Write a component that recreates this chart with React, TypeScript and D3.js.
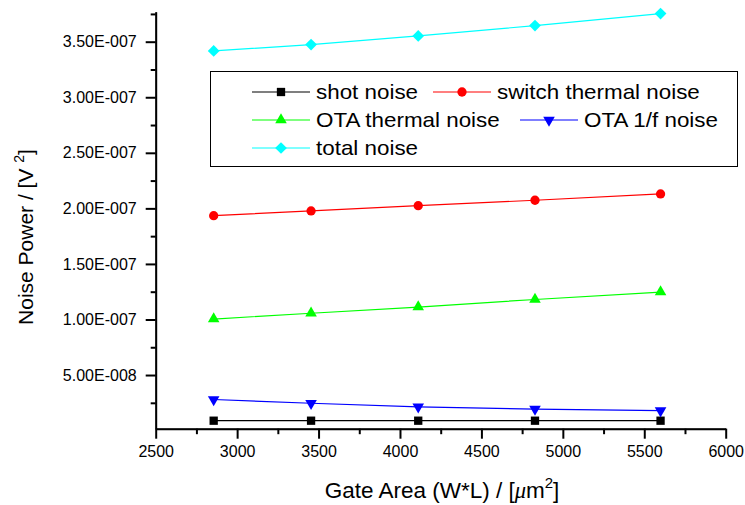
import React, { useEffect, useRef } from "react";
import * as d3 from "d3";

// values
const gateArea = [2856, 3454, 4112, 4829, 5600];
const shotNoise = [8.9e-9, 8.9e-9, 8.9e-9, 8.9e-9, 8.9e-9];
const switchThermalNoise = [1.934e-7, 1.977e-7, 2.024e-7, 2.073e-7, 2.13e-7];
const otaThermalNoise = [1.004e-7, 1.056e-7, 1.112e-7, 1.18e-7, 1.247e-7];
const otaFlickerNoise = [2.8e-8, 2.46e-8, 2.14e-8, 1.93e-8, 1.79e-8];
const totalNoise = [3.417e-7, 3.474e-7, 3.552e-7, 3.645e-7, 3.753e-7];

const seriesNames = [
  "shot noise",
  "switch thermal noise",
  "OTA thermal noise",
  "OTA 1/f noise",
  "total noise",
];
const seriesColors = ["#000000", "#ff0000", "#00ff00", "#0000ff", "#00ffff"];
const seriesValues = [
  shotNoise,
  switchThermalNoise,
  otaThermalNoise,
  otaFlickerNoise,
  totalNoise,
];

const xMajorTicks = [2500, 3000, 3500, 4000, 4500, 5000, 5500, 6000];
const yMajorTicks = [5e-8, 1e-7, 1.5e-7, 2e-7, 2.5e-7, 3e-7, 3.5e-7];

const width = 745;
const height = 505;
const font = "Liberation Sans, Arial, sans-serif";

// Origin-style "3.50E-007"
const sciFormat = (v: number) => {
  const exp = Math.floor(Math.log10(v) + 1e-9);
  const mant = v / Math.pow(10, exp);
  const sign = exp < 0 ? "-" : "+";
  return `${mant.toFixed(2)}E${sign}${String(Math.abs(exp)).padStart(3, "0")}`;
};

const symbolFor = (i: number) => {
  if (i === 0) return { type: d3.symbolSquare, size: 69, rotate: 0 };
  if (i === 1) return { type: d3.symbolCircle, size: 68, rotate: 0 };
  if (i === 2) return { type: d3.symbolTriangle, size: 58, rotate: 0 };
  if (i === 3) return { type: d3.symbolTriangle, size: 58, rotate: 180 };
  return { type: d3.symbolSquare, size: 69, rotate: 45 };
};

const App: React.FC = () => {
  const svgRef = useRef<SVGSVGElement>(null);

  useEffect(() => {
    if (!svgRef.current) return;
    const svg = d3.select(svgRef.current);
    svg.selectAll("*").remove();

    const xScale = d3.scaleLinear().domain([2500, 6000]).range([155.7, 725.7]);
    const yScale = d3
      .scaleLinear()
      .domain([1.7e-9, 3.77e-7])
      .range([428.7, 11.7]);

    const xMinor = d3.range(2750, 6000, 500);
    const yMinor = d3.range(2.5e-8, 3.8e-7, 5e-8);

    // x axis (minor ticks, then major ticks + labels)
    const gx = svg.append("g").attr("transform", `translate(0,${yScale.range()[0]})`);
    gx.call(d3.axisBottom(xScale).tickValues(xMinor).tickSize(5.5).tickFormat(() => "").tickSizeOuter(0));
    gx.call((g: any) => g.selectAll(".tick line").attr("stroke-width", 2));
    const gx2 = svg.append("g").attr("transform", `translate(0,${yScale.range()[0]})`);
    gx2
      .call(
        d3
          .axisBottom(xScale)
          .tickValues(xMajorTicks)
          .tickSize(10)
          .tickPadding(6.5)
          .tickSizeOuter(0)
          .tickFormat((d) => String(d))
      )
      .call((g: any) => g.select(".domain").attr("stroke-width", 2))
      .call((g: any) => g.selectAll(".tick line").attr("stroke-width", 2))
      .call((g: any) =>
        g.selectAll(".tick text").attr("font-family", font).attr("font-size", 16).attr("fill", "#000")
      );

    // y axis
    const gy = svg.append("g").attr("transform", `translate(${xScale.range()[0]},0)`);
    gy.call(d3.axisLeft(yScale).tickValues(yMinor).tickSize(5).tickFormat(() => "").tickSizeOuter(0));
    gy.call((g: any) => g.selectAll(".tick line").attr("stroke-width", 2));
    const gy2 = svg.append("g").attr("transform", `translate(${xScale.range()[0]},0)`);
    gy2
      .call(
        d3
          .axisLeft(yScale)
          .tickValues(yMajorTicks)
          .tickSize(10)
          .tickPadding(9)
          .tickSizeOuter(0)
          .tickFormat((d) => sciFormat(d as number))
      )
      .call((g: any) => g.select(".domain").attr("stroke-width", 2))
      .call((g: any) => g.selectAll(".tick line").attr("stroke-width", 2))
      .call((g: any) =>
        g.selectAll(".tick text").attr("font-family", font).attr("font-size", 16).attr("fill", "#000")
      );

    // series
    const line = d3
      .line<number>()
      .x((_, i) => xScale(gateArea[i]))
      .y((d) => yScale(d));

    seriesValues.forEach((vals, si) => {
      svg
        .append("path")
        .datum(vals)
        .attr("fill", "none")
        .attr("stroke", seriesColors[si])
        .attr("stroke-width", 1.2)
        .attr("d", line);
      const sym = symbolFor(si);
      svg
        .append("g")
        .selectAll("path")
        .data(vals)
        .join("path")
        .attr("d", d3.symbol(sym.type, sym.size)())
        .attr(
          "transform",
          (d, i) => `translate(${xScale(gateArea[i])},${yScale(d)}) rotate(${sym.rotate})`
        )
        .attr("fill", seriesColors[si]);
    });

    // legend
    const legend = svg.append("g");
    legend
      .append("rect")
      .attr("x", 210.5)
      .attr("y", 71.5)
      .attr("width", 527)
      .attr("height", 95)
      .attr("fill", "white")
      .attr("stroke", "#000")
      .attr("stroke-width", 1);

    const legendPos = [
      { x: 252, y: 92 },
      { x: 433, y: 92 },
      { x: 252, y: 120 },
      { x: 520, y: 120 },
      { x: 252, y: 148 },
    ];
    seriesNames.forEach((name, si) => {
      const p = legendPos[si];
      const item = legend.append("g").attr("transform", `translate(${p.x},${p.y})`);
      item
        .append("line")
        .attr("x1", 0)
        .attr("x2", 58)
        .attr("stroke", seriesColors[si])
        .attr("stroke-width", 1.2);
      const sym = symbolFor(si);
      item
        .append("path")
        .attr("d", d3.symbol(sym.type, sym.size)())
        .attr("transform", `translate(29,0) rotate(${sym.rotate})`)
        .attr("fill", seriesColors[si]);
      // the original export stretches legend text horizontally
      item
        .append("text")
        .attr("transform", "translate(64,0) scale(1.12,1)")
        .attr("dy", "0.35em")
        .attr("font-family", font)
        .attr("font-size", 20)
        .attr("fill", "#000")
        .text(name);
    });

    // axis titles
    const yTitle = svg
      .append("text")
      .attr("transform", "translate(33,237) rotate(-90)")
      .attr("text-anchor", "middle")
      .attr("font-family", font)
      .attr("font-size", 21)
      .attr("fill", "#000");
    yTitle.append("tspan").text("Noise Power / [V ");
    yTitle.append("tspan").attr("dy", -9).attr("font-size", 14).text("2");
    yTitle.append("tspan").attr("dy", 9).text("]");

    const xTitle = svg
      .append("text")
      .attr("x", 442)
      .attr("y", 498)
      .attr("text-anchor", "middle")
      .attr("font-family", font)
      .attr("font-size", 22.5)
      .attr("fill", "#000");
    xTitle.append("tspan").text("Gate Area (W*L) / [");
    xTitle
      .append("tspan")
      .attr("font-family", "Liberation Serif, serif")
      .attr("font-style", "italic")
      .text("\u03bc");
    xTitle.append("tspan").text("m");
    xTitle.append("tspan").attr("dy", -10).attr("font-size", 15).text("2");
    xTitle.append("tspan").attr("dy", 10).text("]");
  }, []);

  return (
    <svg
      ref={svgRef}
      width={width}
      height={height}
      viewBox={`0 0 ${width} ${height}`}
      style={{ position: "absolute", left: 0, top: 0, background: "#fff" }}
    ></svg>
  );
};

export default App;
